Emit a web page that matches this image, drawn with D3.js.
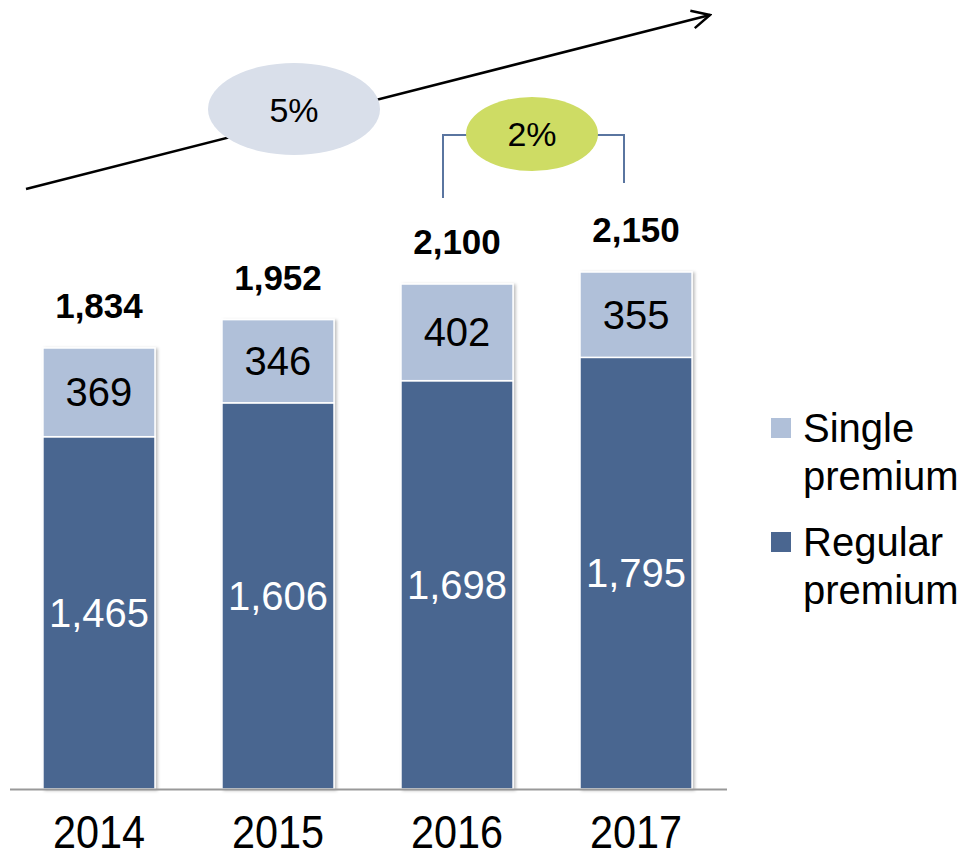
<!DOCTYPE html>
<html>
<head>
<meta charset="utf-8">
<script src="https://cdn.jsdelivr.net/npm/d3@7"></script>
<style>
  body { margin: 0; background: #fff; }
  text { font-family: "Liberation Sans", Arial, sans-serif; }
</style>
</head>
<body>
<svg id="canvas" width="975" height="860"></svg>
<script>
// data
const years = ["2014", "2015", "2016", "2017"];
const regularPremium = [1465, 1606, 1698, 1795];
const singlePremium = [369, 346, 402, 355];
const totals = [1834, 1952, 2100, 2150];
const seriesNames = ["Single premium", "Regular premium"];
const cagrLabel = "5%";
const lastYearGrowth = "2%";

const colors = { regular: "#4A6690", single: "#B0C0D9" };
const fmt = d3.format(",");

const svg = d3.select("#canvas");

const x = d3.scaleBand()
  .domain(years)
  .range([10, 725])
  .paddingInner(0.374)
  .paddingOuter(0.184);

const y = d3.scaleLinear()
  .domain([0, d3.max(totals)])
  .range([789, 272]);

const rows = years.map((yr, i) => ({
  year: yr,
  regular: regularPremium[i],
  single: singlePremium[i],
  total: totals[i],
}));

// soft shadow on the bars
const defs = svg.append("defs");
const shadow = defs.append("filter").attr("id", "shadow")
  .attr("x", "-10%").attr("y", "-5%").attr("width", "125%").attr("height", "115%");
shadow.append("feDropShadow")
  .attr("dx", 2).attr("dy", 1).attr("stdDeviation", 1.5)
  .attr("flood-color", "#000").attr("flood-opacity", 0.25);

const bars = svg.append("g").attr("class", "bars");

const groups = bars.selectAll("g")
  .data(rows)
  .enter()
  .append("g")
  .attr("filter", "url(#shadow)");

groups.append("rect")
  .attr("x", (d) => x(d.year))
  .attr("width", x.bandwidth())
  .attr("y", (d) => y(d.regular))
  .attr("height", (d) => y(0) - y(d.regular))
  .attr("fill", colors.regular)
  .attr("stroke", "#fff")
  .attr("stroke-width", 1.5);

groups.append("rect")
  .attr("x", (d) => x(d.year))
  .attr("width", x.bandwidth())
  .attr("y", (d) => y(d.total))
  .attr("height", (d) => y(d.regular) - y(d.total))
  .attr("fill", colors.single)
  .attr("stroke", "#fff")
  .attr("stroke-width", 1.5);

// baseline
svg.append("line")
  .attr("x1", 10).attr("x2", 727)
  .attr("y1", y(0) + 0.5).attr("y2", y(0) + 0.5)
  .attr("stroke", "#999").attr("stroke-width", 2);

// segment labels
const labels = svg.append("g").attr("text-anchor", "middle");

labels.selectAll(".reg")
  .data(rows)
  .enter()
  .append("text")
  .attr("class", "reg")
  .attr("x", (d) => x(d.year) + x.bandwidth() / 2)
  .attr("y", (d) => (y(0) + y(d.regular)) / 2 + 14)
  .attr("font-size", 40)
  .attr("fill", "#fff")
  .text((d) => fmt(d.regular));

labels.selectAll(".sgl")
  .data(rows)
  .enter()
  .append("text")
  .attr("class", "sgl")
  .attr("x", (d) => x(d.year) + x.bandwidth() / 2)
  .attr("y", (d) => (y(d.regular) + y(d.total)) / 2 + 14)
  .attr("font-size", 40)
  .attr("fill", "#000")
  .text((d) => fmt(d.single));

labels.selectAll(".tot")
  .data(rows)
  .enter()
  .append("text")
  .attr("class", "tot")
  .attr("x", (d) => x(d.year) + x.bandwidth() / 2)
  .attr("y", (d) => y(d.total) - 30)
  .attr("font-size", 35)
  .attr("font-weight", "bold")
  .attr("fill", "#000")
  .text((d) => fmt(d.total));

// year axis labels (narrow, tall glyphs)
labels.selectAll(".yr")
  .data(years)
  .enter()
  .append("text")
  .attr("class", "yr")
  .attr("transform", (d) => `translate(${x(d) + x.bandwidth() / 2},848) scale(0.9,1)`)
  .attr("font-size", 46)
  .attr("fill", "#000")
  .text((d) => d);

// growth arrow
defs.append("marker")
  .attr("id", "arrowhead")
  .attr("viewBox", "0 0 22 22")
  .attr("refX", 20).attr("refY", 11)
  .attr("markerWidth", 22).attr("markerHeight", 22)
  .attr("markerUnits", "userSpaceOnUse")
  .attr("orient", "auto")
  .append("path")
  .attr("d", "M2,2 L20,11 L2,20")
  .attr("fill", "none")
  .attr("stroke", "#000")
  .attr("stroke-width", 2.5);

svg.append("line")
  .attr("x1", 26).attr("y1", 189)
  .attr("x2", 710).attr("y2", 15)
  .attr("stroke", "#000").attr("stroke-width", 2.5)
  .attr("marker-end", "url(#arrowhead)");

svg.append("ellipse")
  .attr("cx", 294).attr("cy", 109)
  .attr("rx", 86).attr("ry", 46)
  .attr("fill", "#D9DFEA");

svg.append("text")
  .attr("x", 294).attr("y", 122)
  .attr("text-anchor", "middle")
  .attr("font-size", 34)
  .text(cagrLabel);

// bracket for last-year growth
svg.append("path")
  .attr("d", "M443,198 V135 H470 M596,135 H624 V183")
  .attr("fill", "none")
  .attr("stroke", "#5A75A0")
  .attr("stroke-width", 2);

svg.append("ellipse")
  .attr("cx", 532).attr("cy", 134)
  .attr("rx", 66).attr("ry", 37)
  .attr("fill", "#CEDC64");

svg.append("text")
  .attr("x", 532).attr("y", 146)
  .attr("text-anchor", "middle")
  .attr("font-size", 34)
  .text(lastYearGrowth);

// legend
const legend = svg.append("g").attr("transform", "translate(771,418)");
const legendItems = legend.selectAll("g")
  .data(seriesNames)
  .enter()
  .append("g")
  .attr("transform", (d, i) => `translate(0,${i * 114})`);

legendItems.append("rect")
  .attr("width", 20).attr("height", 20)
  .attr("fill", (d, i) => (i === 0 ? colors.single : colors.regular));

legendItems.append("text")
  .attr("x", 32)
  .attr("font-size", 40)
  .attr("fill", "#000")
  .selectAll("tspan")
  .data((d) => d.split(" "))
  .enter()
  .append("tspan")
  .attr("x", 32)
  .attr("y", (d, i) => 24 + i * 48)
  .text((d) => d);
</script>
</body>
</html>
